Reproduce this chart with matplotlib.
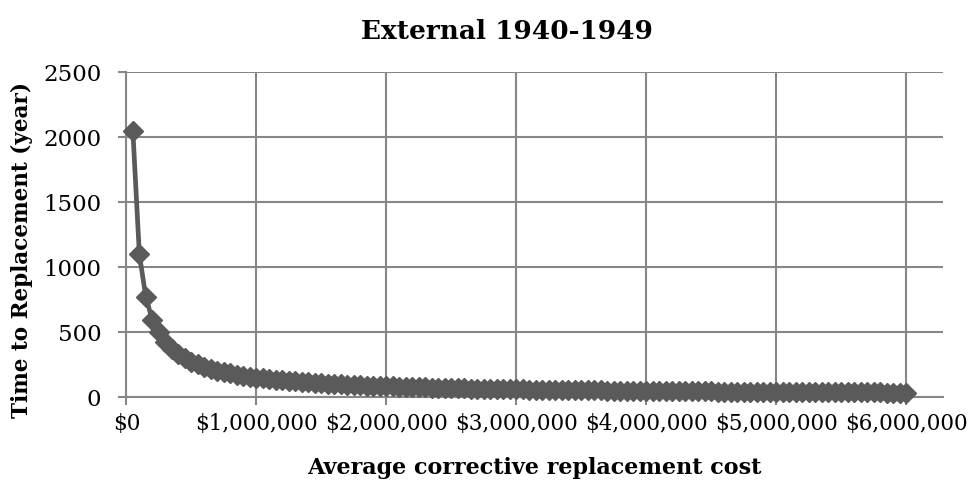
import matplotlib
matplotlib.use("Agg")
import matplotlib.pyplot as plt
from matplotlib.ticker import FuncFormatter, MultipleLocator

# Average corrective replacement cost ($), in steps of $50,000
cost = [50000 * i for i in range(1, 121)]

# Time to replacement (years) at each cost level
years = [
    2045, 1096, 763, 591, 496, 423, 369, 328, 296, 269,
    248, 230, 214, 200, 189, 178, 169, 161, 153, 146,
    140, 135, 130, 125, 120, 116, 112, 109, 106, 103,
    100, 97, 94, 92, 89.5, 87, 85, 83, 81, 80,
    78, 76, 75, 73, 72, 70, 69, 68, 67, 65,
    64, 63, 62, 61, 60, 59, 58, 57, 56.5, 56,
    55, 54, 53.5, 53, 52, 51.5, 51, 50, 49.5, 49,
    48, 47.5, 47, 46.5, 46, 45.5, 45, 44.5, 44, 43.5,
    42.9, 42.5, 42.1, 41.7, 41.3, 40.9, 40.5, 40.1, 39.7, 39.3,
    38.9, 38.6, 38.2, 37.9, 37.5, 37.2, 36.9, 36.5, 36.2, 35.9,
    35.5, 35.2, 34.9, 34.6, 34.3, 34.0, 33.7, 33.4, 33.2, 32.9,
    32.6, 32.4, 32.1, 31.9, 31.6, 31.4, 31.2, 30.9, 30.7, 30.5,
]

title = "External 1940-1949"
x_label = "Average corrective replacement cost"
y_label = "Time to Replacement (year)"

plt.rcParams["font.family"] = ["DejaVu Serif"]

fig = plt.figure(figsize=(9.72, 4.89), dpi=100)
ax = fig.add_axes([0.130, 0.187, 0.840, 0.664])

line_color = "#5a5a5a"
grid_color = "#878787"

ax.plot(cost, years, color=line_color, linewidth=3.4, marker="D",
        markersize=10, markerfacecolor=line_color, markeredgecolor=line_color,
        zorder=3, clip_on=False)

ax.set_xlim(0, 6.28e6)
ax.set_ylim(0, 2500)
ax.xaxis.set_major_locator(MultipleLocator(1e6))
ax.yaxis.set_major_locator(MultipleLocator(500))
ax.xaxis.set_major_formatter(FuncFormatter(lambda v, p: f"${v:,.0f}"))

ax.grid(True, color=grid_color, linewidth=1.5)
ax.set_axisbelow(True)

for side in ("top", "right"):
    ax.spines[side].set_visible(False)
for side in ("left", "bottom"):
    ax.spines[side].set_color(grid_color)
    ax.spines[side].set_linewidth(1.5)

ax.tick_params(axis="both", colors=grid_color, length=6, width=1.5,
               labelcolor="black", labelsize=15.5)
ax.tick_params(axis="y", labelsize=16.5, pad=12)
ax.tick_params(axis="x", pad=5)

fig.text(0.522, 0.936, title, fontsize=19, fontweight="bold",
         ha="center", va="center")
ax.set_xlabel(x_label, fontsize=16, fontweight="bold", labelpad=16)
ax.set_ylabel(y_label, fontsize=15.5, fontweight="bold")
ax.yaxis.set_label_coords(-0.114, 0.455)

fig.savefig("out.png", dpi=100)
